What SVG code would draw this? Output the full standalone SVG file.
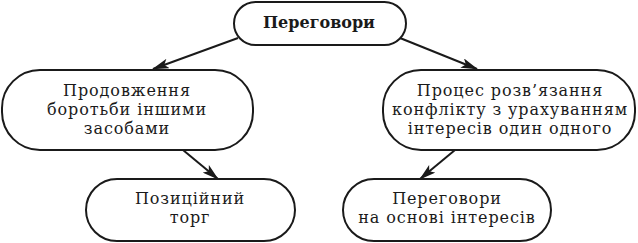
<svg xmlns="http://www.w3.org/2000/svg" width="638" height="243" viewBox="0 0 638 243">
<style>
.box{fill:#fff;stroke:#1a1a1a;stroke-width:2}
.t{font-family:"DejaVu Serif","Liberation Serif",serif;font-size:16px;letter-spacing:0.9px;fill:#1a1a1a;text-anchor:middle}
.b{font-weight:bold;font-size:16px;letter-spacing:0}
.c{stroke:#1a1a1a;stroke-width:2;fill:none;marker-end:url(#ah)}
</style>
<defs>
<marker id="ah" markerWidth="17" markerHeight="10" refX="16" refY="5" orient="auto" markerUnits="userSpaceOnUse">
<path d="M0,0 L17,5 L0,10 L4,5 Z" fill="#1a1a1a"/>
</marker>
</defs>
<rect width="638" height="243" fill="#fff"/>
<g id="connectors">
<line class="c" x1="238" y1="38" x2="153" y2="69"/>
<line class="c" x1="400" y1="38" x2="477" y2="69"/>
<line class="c" x1="183" y1="150" x2="218" y2="179"/>
<line class="c" x1="455" y1="150" x2="420" y2="179"/>
</g>
<g id="n-top">
<rect class="box" x="234" y="2" width="172" height="43" rx="21.5"/>
<text class="t b" x="319" y="28">Переговори</text>
</g>
<g id="n-left">
<rect class="box" x="2" y="70" width="251" height="80" rx="38"/>
<text class="t" x="127" y="96">Продовження</text>
<text class="t" x="127" y="115">боротьби іншими</text>
<text class="t" x="127" y="134">засобами</text>
</g>
<g id="n-right">
<rect class="box" x="383" y="70" width="252" height="80" rx="38"/>
<text class="t" x="510" y="96">Процес розв’язання</text>
<text class="t" x="510" y="115">конфлікту з урахуванням</text>
<text class="t" x="510" y="134">інтересів один одного</text>
</g>
<g id="n-bl">
<rect class="box" x="86" y="179" width="209" height="62" rx="31"/>
<text class="t" x="190" y="204">Позиційний</text>
<text class="t" x="190" y="223">торг</text>
</g>
<g id="n-br">
<rect class="box" x="343" y="179" width="208" height="62" rx="31"/>
<text class="t" x="447" y="204">Переговори</text>
<text class="t" x="447" y="223">на основі інтересів</text>
</g>
</svg>
